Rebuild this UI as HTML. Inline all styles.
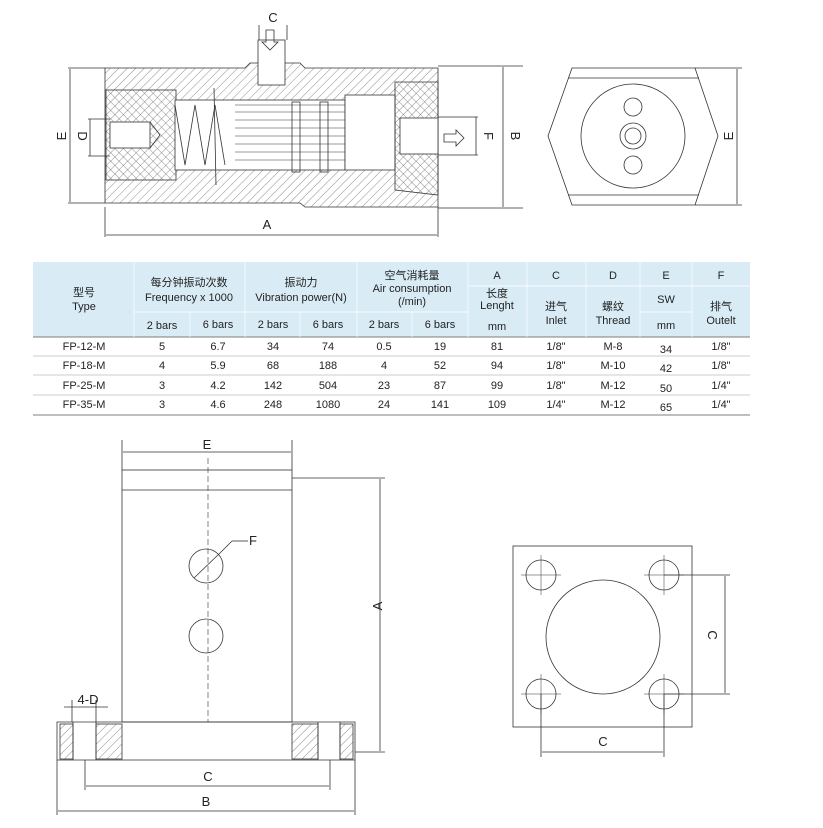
<!DOCTYPE html>
<html><head><meta charset="utf-8"><style>
body{margin:0;background:#fff;width:823px;height:828px;overflow:hidden}
svg{position:absolute;left:0;top:0}
text{font-family:"Liberation Sans","Noto Sans CJK SC",sans-serif;fill:#222}
</style></head><body>
<svg width="823" height="828" viewBox="0 0 823 828">
<defs>
<pattern id="h" width="6" height="6" patternUnits="userSpaceOnUse" patternTransform="rotate(45)"><line x1="0" y1="0" x2="0" y2="6" stroke="#444" stroke-width="0.6"/></pattern>
<pattern id="h2" width="6" height="6" patternUnits="userSpaceOnUse" patternTransform="rotate(-45)"><line x1="0" y1="0" x2="0" y2="6" stroke="#444" stroke-width="0.6"/></pattern>
</defs>
<g fill="none" stroke="#333" stroke-width="0.8">
<path d="M105 68 H245 L250 63 H300 L305 68 H438 V207 H305 L300 203 H105 Z" fill="url(#h)"/>
<rect x="106" y="90" width="70" height="90" fill="url(#h2)"/>
<rect x="175" y="100" width="170" height="70" fill="#fff"/>
<rect x="345" y="95" width="50" height="75" fill="#fff"/>
<path d="M395 82 L438 82 V195 L395 190 Z" fill="url(#h2)"/>
<rect x="110" y="122" width="40" height="26" fill="#fff"/>
<path d="M150 122 L160 135 L150 148"/>
<rect x="400" y="118" width="38" height="36" fill="#fff"/>
<path d="M175 105 L185 165 L195 105 L205 165 L215 105 L225 165"/>
<line x1="214" y1="88" x2="216" y2="185"/>
<g stroke-width="0.6">
<line x1="235" y1="105" x2="345" y2="105"/><line x1="235" y1="112" x2="345" y2="112"/><line x1="235" y1="120" x2="345" y2="120"/><line x1="235" y1="128" x2="345" y2="128"/><line x1="235" y1="136" x2="345" y2="136"/><line x1="235" y1="144" x2="345" y2="144"/><line x1="235" y1="152" x2="345" y2="152"/><line x1="235" y1="160" x2="345" y2="160"/>
</g>
<rect x="292" y="102" width="8" height="70"/><rect x="320" y="102" width="8" height="70"/>
<rect x="258" y="40" width="27" height="45" fill="#fff"/>
<line x1="259" y1="25" x2="259" y2="40"/><line x1="287" y1="25" x2="287" y2="40"/>
<path d="M266 30 h8 v12 h4 l-8 8 l-8 -8 h4 z"/>
<path d="M444 134 h12 v-4 l8 8 l-8 8 v-4 h-12 z"/>
<line x1="68" y1="68" x2="105" y2="68"/><line x1="68" y1="203" x2="105" y2="203"/>
<line x1="70" y1="69" x2="70" y2="202"/>
<line x1="88" y1="119" x2="110" y2="119"/><line x1="88" y1="156" x2="110" y2="156"/>
<line x1="90" y1="119" x2="90" y2="156"/>
<line x1="438" y1="117" x2="478" y2="117"/><line x1="438" y1="155" x2="478" y2="155"/>
<line x1="476" y1="117" x2="476" y2="155"/>
<line x1="438" y1="66" x2="523" y2="66"/><line x1="438" y1="208" x2="523" y2="208"/>
<line x1="503" y1="67" x2="503" y2="207"/>
<line x1="105" y1="207" x2="105" y2="237"/><line x1="438" y1="207" x2="438" y2="237"/>
<line x1="106" y1="235" x2="437" y2="235"/>
<path d="M572 68 H695 L718 136 L695 205 H572 L548 136 Z"/>
<line x1="568" y1="78" x2="699" y2="78"/><line x1="568" y1="195" x2="699" y2="195"/>
<circle cx="633" cy="136" r="52"/>
<circle cx="633" cy="136" r="13"/><circle cx="633" cy="136" r="8"/>
<circle cx="633" cy="107" r="9"/><circle cx="633" cy="165" r="9"/>
<line x1="695" y1="68" x2="742" y2="68"/><line x1="695" y1="205" x2="742" y2="205"/>
<line x1="737" y1="69" x2="737" y2="204"/>
<rect x="122" y="470" width="170" height="252"/>
<line x1="122" y1="490" x2="292" y2="490"/>
<line x1="208" y1="458" x2="208" y2="722" stroke-dasharray="6,3" stroke-width="0.6"/>
<line x1="122" y1="440" x2="122" y2="470"/><line x1="292" y1="440" x2="292" y2="470"/>
<line x1="123" y1="452" x2="291" y2="452"/>
<circle cx="206" cy="566" r="17"/><line x1="194" y1="578" x2="220" y2="553"/><line x1="220" y1="553" x2="232" y2="541"/><line x1="232" y1="541" x2="248" y2="541"/>
<circle cx="206" cy="636" r="17"/>
<path d="M57 722 H355 V760 H57 Z"/>
<rect x="60" y="724" width="13" height="35" fill="url(#h)"/><rect x="96" y="724" width="26" height="35" fill="url(#h)"/>
<rect x="292" y="724" width="26" height="35" fill="url(#h)"/><rect x="340" y="724" width="13" height="35" fill="url(#h)"/>
<line x1="73" y1="722" x2="73" y2="760"/><line x1="96" y1="722" x2="96" y2="760"/><line x1="318" y1="722" x2="318" y2="760"/><line x1="340" y1="722" x2="340" y2="760"/>
<line x1="72" y1="700" x2="72" y2="722"/><line x1="96" y1="700" x2="96" y2="722"/><line x1="64" y1="707" x2="108" y2="707"/>
<line x1="292" y1="478" x2="385" y2="478"/><line x1="355" y1="752" x2="385" y2="752"/>
<line x1="380" y1="479" x2="380" y2="751"/>
<line x1="85" y1="760" x2="85" y2="790"/><line x1="330" y1="760" x2="330" y2="790"/>
<line x1="86" y1="786" x2="329" y2="786"/>
<line x1="57" y1="760" x2="57" y2="815"/><line x1="355" y1="760" x2="355" y2="815"/>
<line x1="58" y1="811" x2="354" y2="811"/>
<rect x="513" y="546" width="179" height="181"/>
<circle cx="603" cy="637" r="57"/>
<circle cx="541" cy="575" r="15"/><circle cx="664" cy="575" r="15"/><circle cx="541" cy="694" r="15"/><circle cx="664" cy="694" r="15"/>
<g stroke-width="0.5"><line x1="521" y1="575" x2="561" y2="575"/><line x1="541" y1="555" x2="541" y2="595"/><line x1="644" y1="575" x2="684" y2="575"/><line x1="664" y1="555" x2="664" y2="595"/><line x1="521" y1="694" x2="561" y2="694"/><line x1="541" y1="674" x2="541" y2="714"/><line x1="644" y1="694" x2="684" y2="694"/><line x1="664" y1="674" x2="664" y2="714"/></g>
<line x1="664" y1="575" x2="730" y2="575"/><line x1="664" y1="694" x2="730" y2="694"/>
<line x1="725" y1="576" x2="725" y2="693"/>
<line x1="541" y1="694" x2="541" y2="757"/><line x1="664" y1="694" x2="664" y2="757"/>
<line x1="542" y1="752" x2="663" y2="752"/>
</g>
<g font-size="13">
<text x="267" y="229" text-anchor="middle">A</text>
<text x="273" y="22" text-anchor="middle">C</text>
<text transform="translate(66 136) rotate(-90)" text-anchor="middle">E</text>
<text transform="translate(78 136) rotate(90)" text-anchor="middle">D</text>
<text transform="translate(484 136) rotate(90)" text-anchor="middle">F</text>
<text transform="translate(511 136) rotate(90)" text-anchor="middle">B</text>
<text transform="translate(733 136) rotate(-90)" text-anchor="middle">E</text>
<text x="207" y="449" text-anchor="middle">E</text>
<text x="249" y="545">F</text>
<text transform="translate(382 606) rotate(-90)" text-anchor="middle">A</text>
<text x="88" y="704" text-anchor="middle">4-D</text>
<text x="208" y="781" text-anchor="middle">C</text>
<text x="206" y="806" text-anchor="middle">B</text>
<text transform="translate(708 635) rotate(90)" text-anchor="middle">C</text>
<text x="603" y="746" text-anchor="middle">C</text>
</g>
<rect x="33" y="262" width="717" height="75" fill="#d9ecf6"/>
<g stroke="#9ab" stroke-width="0.7" fill="none">
<line x1="33" y1="337" x2="750" y2="337" stroke="#555"/>
<line x1="33" y1="415" x2="750" y2="415" stroke="#555"/>
<line x1="33" y1="356" x2="750" y2="356" stroke="#bbb"/><line x1="33" y1="375" x2="750" y2="375" stroke="#bbb"/><line x1="33" y1="395" x2="750" y2="395" stroke="#bbb"/>
<line x1="134" y1="312" x2="468" y2="312" stroke="#fff"/><line x1="468" y1="286" x2="750" y2="286" stroke="#fff"/>
<line x1="134" y1="262" x2="134" y2="337" stroke="#fff"/><line x1="245" y1="262" x2="245" y2="337" stroke="#fff"/><line x1="357" y1="262" x2="357" y2="337" stroke="#fff"/><line x1="468" y1="262" x2="468" y2="337" stroke="#fff"/><line x1="527" y1="262" x2="527" y2="337" stroke="#fff"/><line x1="586" y1="262" x2="586" y2="337" stroke="#fff"/><line x1="640" y1="262" x2="640" y2="337" stroke="#fff"/><line x1="692" y1="262" x2="692" y2="337" stroke="#fff"/>
<line x1="190" y1="312" x2="190" y2="337" stroke="#fff"/><line x1="300" y1="312" x2="300" y2="337" stroke="#fff"/><line x1="412" y1="312" x2="412" y2="337" stroke="#fff"/>
<line x1="640" y1="312" x2="692" y2="312" stroke="#fff"/>
</g>
<g font-size="11" text-anchor="middle">
<text x="84" y="296">型号</text><text x="84" y="310">Type</text>
<text x="189" y="286">每分钟振动次数</text><text x="189" y="301">Frequency x 1000</text>
<text x="301" y="286">振动力</text><text x="301" y="301">Vibration power(N)</text>
<text x="412" y="279">空气消耗量</text><text x="412" y="292">Air consumption</text><text x="412" y="305">(/min)</text>
<text x="497" y="279">A</text><text x="556" y="279">C</text><text x="613" y="279">D</text><text x="666" y="279">E</text><text x="721" y="279">F</text>
<text x="497" y="297">长度</text><text x="497" y="309">Lenght</text><text x="497" y="330">mm</text>
<text x="556" y="310">进气</text><text x="556" y="324">Inlet</text>
<text x="613" y="310">螺纹</text><text x="613" y="324">Thread</text>
<text x="666" y="303">SW</text><text x="666" y="329">mm</text>
<text x="721" y="310">排气</text><text x="721" y="324">Outelt</text>
<text x="162" y="329">2 bars</text><text x="218" y="328">6 bars</text><text x="273" y="328">2 bars</text><text x="328" y="328">6 bars</text><text x="384" y="328">2 bars</text><text x="440" y="328">6 bars</text>
</g>
<g font-size="11" text-anchor="middle">
<g transform="translate(0 350)"><text x="84">FP-12-M</text><text x="162">5</text><text x="218">6.7</text><text x="273">34</text><text x="328">74</text><text x="384">0.5</text><text x="440">19</text><text x="497">81</text><text x="556">1/8"</text><text x="613">M-8</text><text x="666" y="3">34</text><text x="721">1/8"</text></g>
<g transform="translate(0 369)"><text x="84">FP-18-M</text><text x="162">4</text><text x="218">5.9</text><text x="273">68</text><text x="328">188</text><text x="384">4</text><text x="440">52</text><text x="497">94</text><text x="556">1/8"</text><text x="613">M-10</text><text x="666" y="3">42</text><text x="721">1/8"</text></g>
<g transform="translate(0 389)"><text x="84">FP-25-M</text><text x="162">3</text><text x="218">4.2</text><text x="273">142</text><text x="328">504</text><text x="384">23</text><text x="440">87</text><text x="497">99</text><text x="556">1/8"</text><text x="613">M-12</text><text x="666" y="3">50</text><text x="721">1/4"</text></g>
<g transform="translate(0 408)"><text x="84">FP-35-M</text><text x="162">3</text><text x="218">4.6</text><text x="273">248</text><text x="328">1080</text><text x="384">24</text><text x="440">141</text><text x="497">109</text><text x="556">1/4"</text><text x="613">M-12</text><text x="666" y="3">65</text><text x="721">1/4"</text></g>
</g>
</svg>
</body></html>
